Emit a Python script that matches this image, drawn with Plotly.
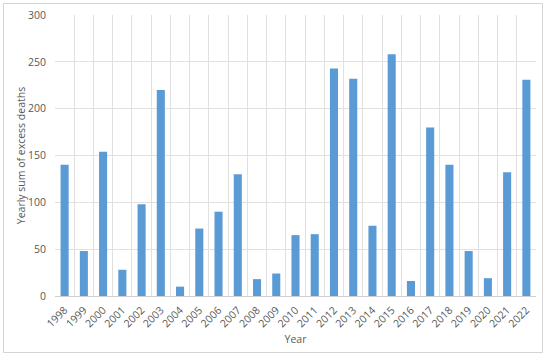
import plotly.graph_objects as go

years = list(range(1998, 2023))
deaths = [140, 48, 154, 28, 98, 220, 10, 72, 90, 130, 18, 24, 65, 66,
          243, 232, 75, 258, 16, 180, 140, 48, 19, 132, 231]
y_ticks = [0, 50, 100, 150, 200, 250, 300]

L, R, T, B = 55, 14, 15, 62
W, H = 550, 358
pw, ph = W - L - R, H - T - B

def px_x(p):
    return (p - L) / pw

def px_y(p):
    return (H - B - p) / ph

grid = "#e0e0e0"
txt = "#595959"
fam = "Open Sans, Liberation Sans, sans-serif"

fig = go.Figure(go.Bar(x=years, y=deaths, marker_color="#5b9bd5",
                       marker_line_width=0, width=0.42))

fig.update_layout(
    width=W, height=H,
    margin=dict(l=L, r=R, t=T, b=B, autoexpand=False),
    paper_bgcolor="white", plot_bgcolor="white",
    font=dict(family=fam, size=10, color=txt),
    showlegend=False,
    xaxis=dict(
        range=[years[0] - 0.5, years[-1] + 0.5],
        tickmode="linear", tick0=years[0], dtick=1, ticks="", ticklen=0,
        showgrid=False, automargin=False,
        minor=dict(tickmode="linear", dtick=1, tick0=years[0] - 0.5, showgrid=True,
                   gridcolor=grid, gridwidth=1, ticks=""),
        showline=True, linecolor="#d0d0d0", linewidth=1,
        zeroline=False,
        tickangle=-45, tickfont=dict(size=10.5, color=txt),
        ticklabelstandoff=3,
        title=dict(text="Year", font=dict(size=10.5, color=txt), standoff=6),
    ),
    yaxis=dict(
        range=[0, 300], tickvals=y_ticks, showgrid=True, gridcolor=grid,
        zeroline=False, showline=False, ticks="", ticklen=0, automargin=False,
        tickfont=dict(size=10.5, color=txt), ticklabelstandoff=8,
        title=dict(text="Yearly sum of excess deaths", font=dict(size=10.5, color=txt), standoff=0),
    ),
    shapes=[
        dict(type="rect", xref="paper", yref="paper",
             x0=px_x(3.5), x1=px_x(542.5), y0=px_y(352.5), y1=px_y(3.5),
             line=dict(color="#d4d4d4", width=1), fillcolor="rgba(0,0,0,0)",
             layer="above"),
    ],
)

fig.write_html("out.html", config={"displayModeBar": False},
               post_script="document.body.style.margin='0';")
